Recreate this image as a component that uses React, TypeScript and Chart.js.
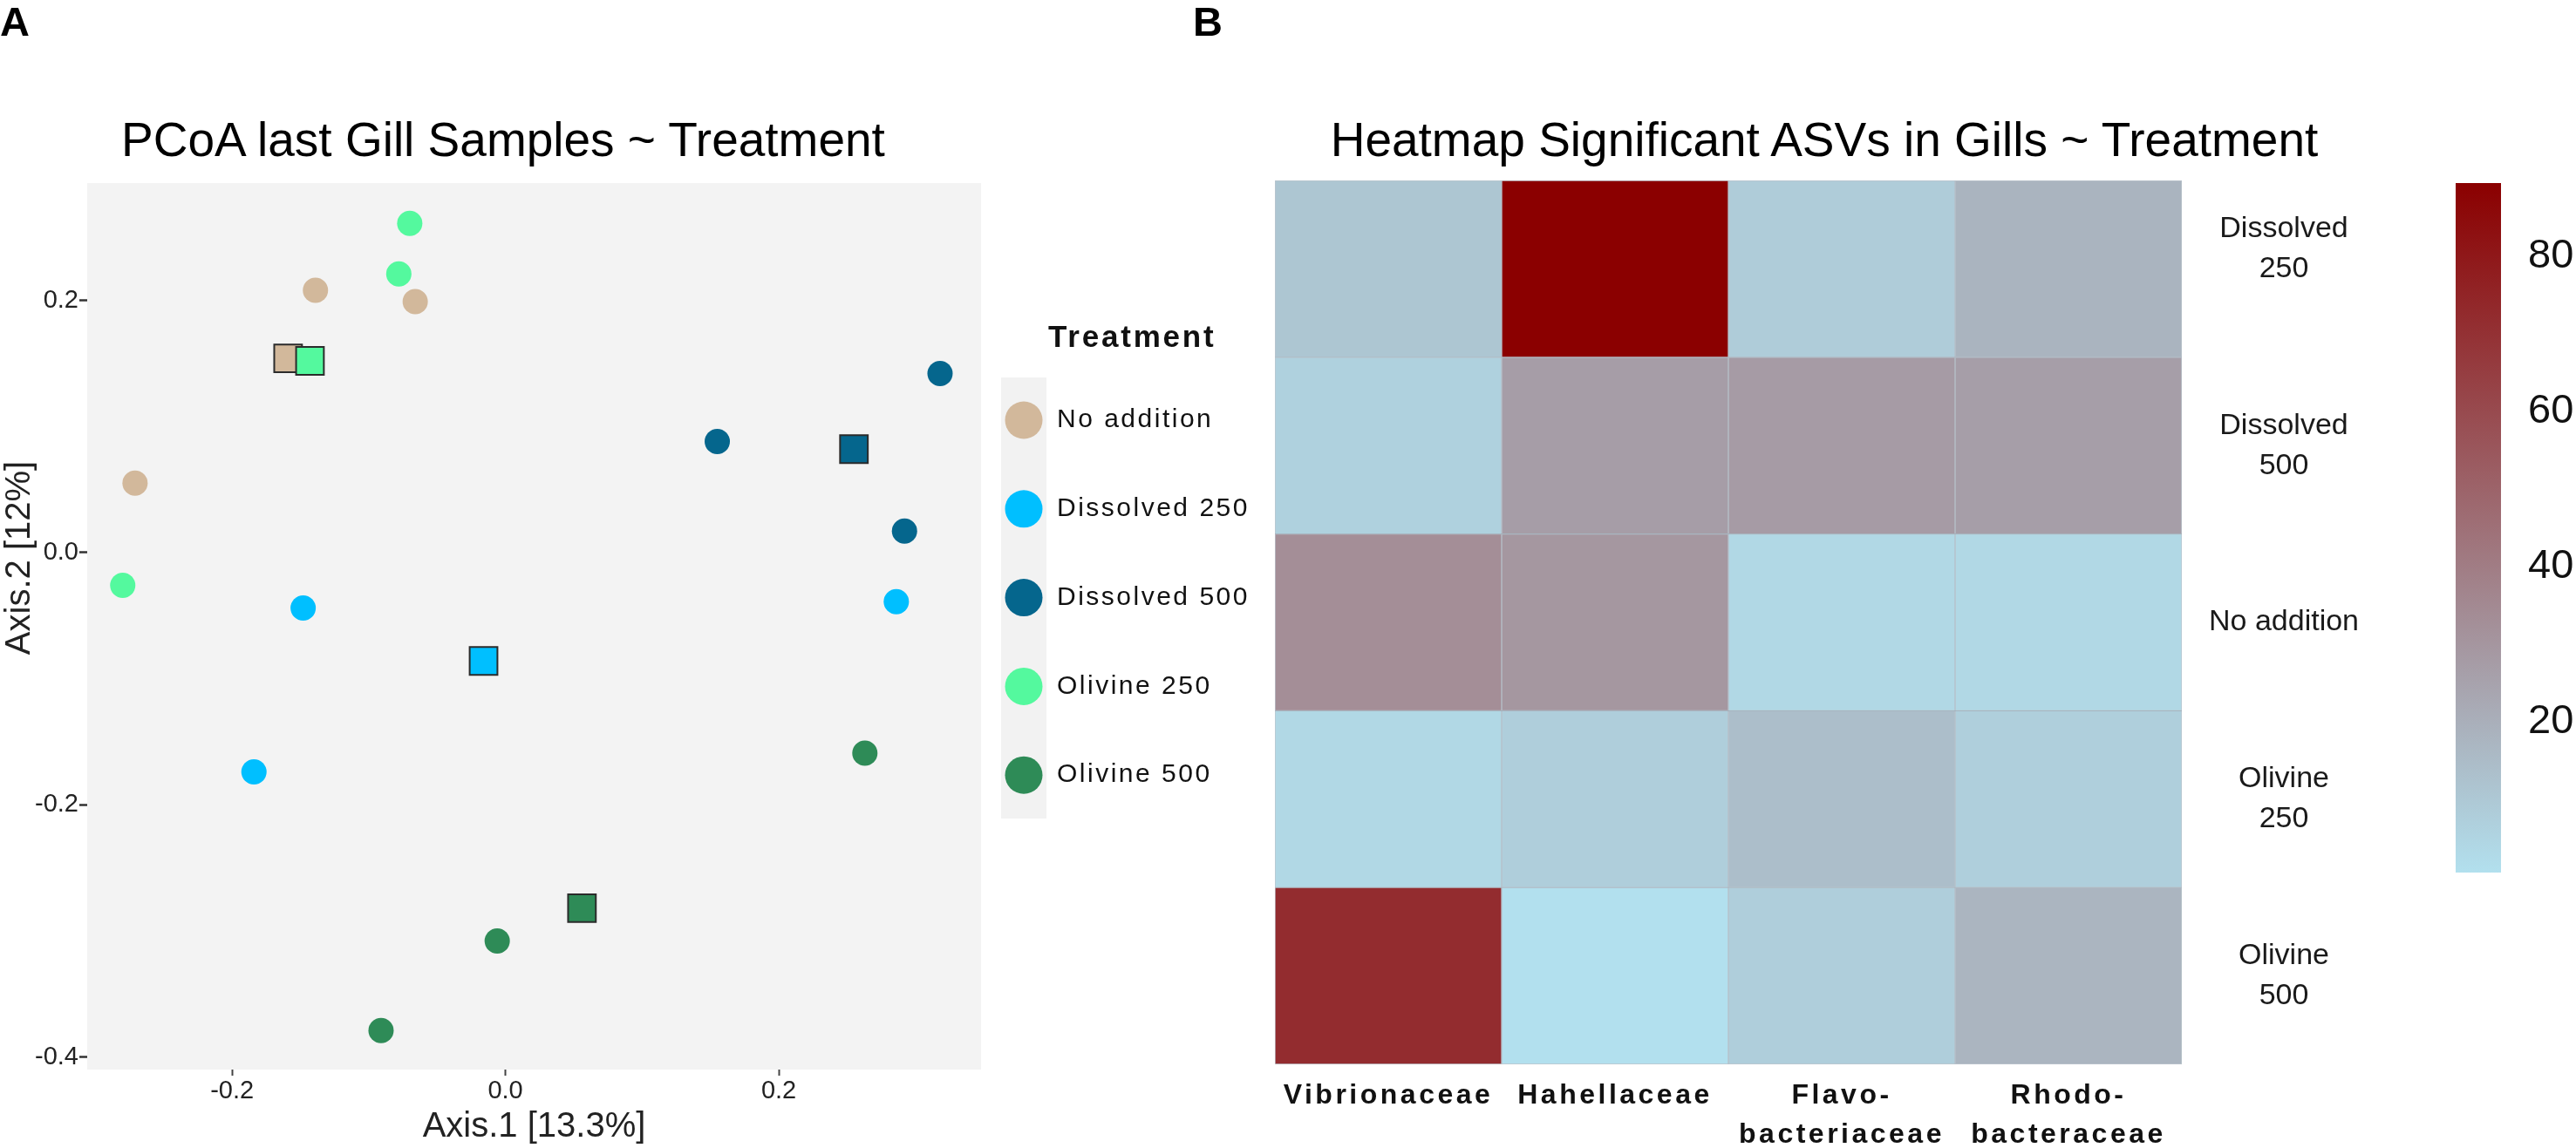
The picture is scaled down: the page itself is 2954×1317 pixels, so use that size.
import React, { useEffect, useRef } from 'react';
import { Chart, registerables } from 'chart.js';

Chart.register(...registerables);

const FONT = "'Liberation Sans', Arial, Helvetica, sans-serif";

// ---------------- Panel A : PCoA ----------------
const treatments = ['No addition', 'Dissolved 250', 'Dissolved 500', 'Olivine 250', 'Olivine 500'];
const treatmentColors = ['#D2B89B', '#00BFFF', '#05668D', '#54F99E', '#2E8B57'];

const noAdditionAxis1 = [-0.139, -0.066, -0.271];
const noAdditionAxis2 = [0.208, 0.199, 0.055];
const dissolved250Axis1 = [-0.148, -0.184, 0.286];
const dissolved250Axis2 = [-0.044, -0.174, -0.039];
const dissolved500Axis1 = [0.318, 0.155, 0.292];
const dissolved500Axis2 = [0.142, 0.088, 0.017];
const olivine250Axis1 = [-0.07, -0.078, -0.28];
const olivine250Axis2 = [0.261, 0.221, -0.026];
const olivine500Axis1 = [0.263, -0.006, -0.091];
const olivine500Axis2 = [-0.159, -0.308, -0.379];

// group centroids (squares)
const centroidAxis1 = [-0.159, -0.016, 0.255, -0.143, 0.056];
const centroidAxis2 = [0.154, -0.086, 0.082, 0.152, -0.282];

const axis1Ticks = [-0.2, 0.0, 0.2];
const axis2Ticks = [-0.4, -0.2, 0.0, 0.2];
const axis1Range = [-0.306, 0.348];
const axis2Range = [-0.41, 0.293];

// ---------------- Panel B : heatmap ----------------
const families = ['Vibrionaceae', 'Hahellaceae', 'Flavobacteriaceae', 'Rhodobacteraceae'];
const familyTickLines: (string | string[])[] = ['Vibrionaceae', 'Hahellaceae', ['Flavo-', 'bacteriaceae'], ['Rhodo-', 'bacteraceae']];
const heatRows = ['Dissolved 250', 'Dissolved 500', 'No addition', 'Olivine 250', 'Olivine 500'];
const heatRowLines: (string | string[])[] = [['Dissolved', '250', ''], ['Dissolved', '500'], 'No addition', ['Olivine', '250'], ['Olivine', '500']];

const dissolved250Values = [10.8, 89.5, 8.4, 17.9];
const dissolved500Values = [6.5, 27.1, 27.9, 26.8];
const noAdditionValues = [33.1, 29.5, 3.7, 3.7];
const olivine250Values = [3.7, 7.6, 14.0, 7.3];
const olivine500Values = [72.1, 0.5, 7.6, 17.6];

const colorbarTicks = [20, 40, 60, 80];
const colorMin = 0.5;
const colorMax = 89.5;
const lowRGB = [178, 224, 238];
const highRGB = [139, 0, 0];

function heatColor(v: number) {
  const t = Math.max(0, Math.min(1, (v - colorMin) / (colorMax - colorMin)));
  const c = lowRGB.map((l, i) => Math.round(l + (highRGB[i] - l) * t));
  return `rgb(${c[0]},${c[1]},${c[2]})`;
}

function useChart(build: (canvas: HTMLCanvasElement) => Chart) {
  const ref = useRef<HTMLCanvasElement>(null);
  useEffect(() => {
    if (!ref.current) return;
    const chart = build(ref.current);
    return () => chart.destroy();
  }, []);
  return ref;
}

function PcoaChart() {
  const ref = useChart((canvas) => {
    const axis1 = [noAdditionAxis1, dissolved250Axis1, dissolved500Axis1, olivine250Axis1, olivine500Axis1];
    const axis2 = [noAdditionAxis2, dissolved250Axis2, dissolved500Axis2, olivine250Axis2, olivine500Axis2];
    const datasets = treatments.map((name, i) => {
      const pts = axis1[i].map((x, j) => ({ x, y: axis2[i][j] }));
      pts.push({ x: centroidAxis1[i], y: centroidAxis2[i] });
      const last = pts.length - 1;
      return {
        label: name,
        data: pts,
        order: name === 'Olivine 250' ? 0 : 1,
        backgroundColor: treatmentColors[i],
        pointBackgroundColor: treatmentColors[i],
        pointStyle: pts.map((_, j) => (j === last ? 'rect' : 'circle')),
        pointRadius: pts.map((_, j) => (j === last ? 22.5 : 14.5)),
        pointBorderWidth: pts.map((_, j) => (j === last ? 2 : 0)),
        pointBorderColor: pts.map((_, j) => (j === last ? '#2b2b2b' : treatmentColors[i])),
      };
    });

    const panelBg = {
      id: 'panelBg',
      beforeDraw(chart: any) {
        const { ctx, chartArea: a } = chart;
        ctx.save();
        ctx.fillStyle = '#F3F3F3';
        ctx.fillRect(a.left, a.top, a.right - a.left, a.bottom - a.top);
        ctx.restore();
      },
    };

    // y-axis title, placed a little above the panel centre as in the original figure
    const yTitle = {
      id: 'yTitle',
      afterDraw(chart: any) {
        const { ctx, chartArea: a } = chart;
        ctx.save();
        ctx.translate(23, a.top + 430);
        ctx.rotate(-Math.PI / 2);
        ctx.textAlign = 'center';
        ctx.textBaseline = 'middle';
        ctx.font = `40px ${FONT}`;
        ctx.fillStyle = '#222';
        ctx.fillText('Axis.2 [12%]', 0, 0);
        ctx.restore();
      },
    };

    const treatmentLegend = {
      id: 'treatmentLegend',
      afterDraw(chart: any) {
        const { ctx, chartArea: a } = chart;
        const x0 = a.right + 23;
        ctx.save();
        ctx.fillStyle = '#F2F2F2';
        ctx.fillRect(x0, a.top + 223, 52, 506);
        ctx.textBaseline = 'middle';
        ctx.textAlign = 'left';
        ctx.letterSpacing = '2.8px';
        ctx.font = `bold 35px ${FONT}`;
        ctx.fillStyle = '#111';
        ctx.fillText('Treatment', x0 + 54, a.top + 178);
        ctx.letterSpacing = '2.5px';
        ctx.font = `30px ${FONT}`;
        chart.data.datasets.forEach((ds: any, i: number) => {
          const cy = a.top + 272 + i * 101.8;
          ctx.beginPath();
          ctx.fillStyle = ds.backgroundColor;
          ctx.arc(x0 + 26, cy, 21.5, 0, Math.PI * 2);
          ctx.fill();
          ctx.fillStyle = '#111';
          ctx.fillText(ds.label, x0 + 64, cy);
        });
        ctx.restore();
      },
    };

    return new Chart(canvas, {
      type: 'scatter',
      data: { datasets: datasets as any },
      plugins: [panelBg, yTitle, treatmentLegend],
      options: {
        responsive: false,
        animation: false,
        events: [],
        layout: { padding: { left: 0, top: 210, right: 335, bottom: 0 } },
        plugins: { legend: { display: false }, tooltip: { enabled: false }, title: { display: false } },
        scales: {
          x: {
            type: 'linear',
            min: axis1Range[0],
            max: axis1Range[1],
            afterBuildTicks: (s: any) => { s.ticks = axis1Ticks.map((v) => ({ value: v })); },
            afterFit: (s: any) => { s.height = 90; },
            grid: { display: true, drawOnChartArea: false, drawTicks: true, tickLength: 7, tickWidth: 2, tickColor: '#444', color: 'rgba(0,0,0,0)' },
            border: { display: false },
            ticks: { font: { family: FONT, size: 29 }, color: '#222', padding: 1, maxRotation: 0, autoSkip: false, callback: (v: any) => Number(v).toFixed(1) },
            title: { display: true, text: 'Axis.1 [13.3%]', font: { family: FONT, size: 40 }, color: '#222', padding: { top: 0, bottom: 0 } },
          },
          y: {
            type: 'linear',
            min: axis2Range[0],
            max: axis2Range[1],
            afterBuildTicks: (s: any) => { s.ticks = axis2Ticks.map((v) => ({ value: v })); },
            afterFit: (s: any) => { s.width = 100; },
            grid: { display: true, drawOnChartArea: false, drawTicks: true, tickLength: 9, tickWidth: 2.5, tickColor: '#333', color: 'rgba(0,0,0,0)' },
            border: { display: false },
            ticks: { font: { family: FONT, size: 29 }, color: '#222', padding: 1, autoSkip: false, callback: (v: any) => Number(v).toFixed(1) },
          },
        },
      },
    } as any);
  });
  return <canvas ref={ref} width={1460} height={1317} style={{ position: 'absolute', left: 0, top: 0, width: 1460, height: 1317 }} />;
}

function HeatmapChart() {
  const ref = useChart((canvas) => {
    const rowValues = [dissolved250Values, dissolved500Values, noAdditionValues, olivine250Values, olivine500Values];
    const datasets = heatRows.map((name, r) => ({
      label: name,
      data: families.map(() => [r, r + 1]),
      backgroundColor: rowValues[r].map((v) => heatColor(v)),
      borderColor: 'rgba(120,140,155,0.5)',
      borderWidth: 1,
      borderSkipped: false,
      grouped: false,
      barPercentage: 1,
      categoryPercentage: 1,
    }));
    // column labels are letter-spaced, row labels are not
    const spacing = {
      id: 'labelSpacing',
      beforeUpdate(chart: any) { chart.ctx.letterSpacing = '0px'; },
      beforeDraw(chart: any) { chart.ctx.letterSpacing = '3.5px'; },
      afterDatasetsDraw(chart: any) { chart.ctx.letterSpacing = '0px'; },
    };
    return new Chart(canvas, {
      type: 'bar',
      data: { labels: families, datasets: datasets as any },
      plugins: [spacing],
      options: {
        responsive: false,
        animation: false,
        events: [],
        layout: { padding: { left: 62, top: 207, right: 0, bottom: 0 } },
        plugins: { legend: { display: false }, tooltip: { enabled: false }, title: { display: false } },
        scales: {
          x: {
            type: 'category',
            offset: true,
            afterFit: (s: any) => { s.height = 96; },
            grid: { display: false },
            border: { display: false },
            ticks: {
              font: { family: FONT, size: 32, weight: 'bold', lineHeight: 1.4 },
              color: '#111',
              padding: 6,
              maxRotation: 0,
              autoSkip: false,
              callback: (_v: any, i: number) => familyTickLines[i],
            },
          },
          y: {
            type: 'linear',
            position: 'right',
            min: 0,
            max: heatRows.length,
            reverse: true,
            afterBuildTicks: (s: any) => { s.ticks = heatRows.map((_, i) => ({ value: i + 0.5 })); },
            afterFit: (s: any) => { s.width = 258; },
            grid: { display: false },
            border: { display: false },
            ticks: {
              z: 1,
              font: { family: FONT, size: 34, lineHeight: 1.35 },
              color: '#1a1a1a',
              padding: 23,
              crossAlign: 'center',
              autoSkip: false,
              callback: (v: any) => heatRowLines[Math.floor(Number(v))],
            },
          },
        },
      },
    } as any);
  });
  return <canvas ref={ref} width={1360} height={1317} style={{ position: 'absolute', left: 1400, top: 0, width: 1360, height: 1317 }} />;
}

function ColorbarChart() {
  const ref = useChart((canvas) => {
    return new Chart(canvas, {
      type: 'bar',
      data: {
        labels: ['value'],
        datasets: [
          {
            data: [[colorMin, colorMax]],
            backgroundColor: (c: any) => {
              const a = c.chart.chartArea;
              if (!a) return heatColor(colorMin);
              const y = c.chart.scales.y;
              const g = c.chart.ctx.createLinearGradient(0, y.getPixelForValue(colorMin), 0, y.getPixelForValue(colorMax));
              g.addColorStop(0, heatColor(colorMin));
              g.addColorStop(1, heatColor(colorMax));
              return g;
            },
            borderWidth: 0,
            barPercentage: 1,
            categoryPercentage: 1,
          },
        ],
      },
      options: {
        responsive: false,
        animation: false,
        events: [],
        layout: { padding: { left: 56, top: 210, right: 0, bottom: 316 } },
        plugins: { legend: { display: false }, tooltip: { enabled: false } },
        scales: {
          x: { display: false },
          y: {
            position: 'right',
            min: colorMin,
            max: colorMax,
            afterBuildTicks: (s: any) => { s.ticks = colorbarTicks.map((v) => ({ value: v })); },
            afterFit: (s: any) => { s.width = 86; },
            grid: { display: false },
            border: { display: false },
            ticks: { font: { family: FONT, size: 47 }, color: '#111', padding: 23, autoSkip: false },
          },
        },
      },
    } as any);
  });
  return <canvas ref={ref} width={194} height={1317} style={{ position: 'absolute', left: 2760, top: 0, width: 194, height: 1317 }} />;
}

const textBase: React.CSSProperties = { position: 'absolute', fontFamily: FONT, lineHeight: 1, color: '#000', whiteSpace: 'nowrap', margin: 0 };

export default function App() {
  return (
    <div style={{ position: 'absolute', left: 0, top: 0, width: 2954, height: 1317, background: '#fff', overflow: 'hidden' }}>
      <PcoaChart />
      <HeatmapChart />
      <ColorbarChart />
      <div style={{ ...textBase, left: 0, top: 1, fontSize: 47, fontWeight: 'bold' }}>A</div>
      <div style={{ ...textBase, left: 1368, top: 1, fontSize: 47, fontWeight: 'bold' }}>B</div>
      <div style={{ ...textBase, left: 0, width: 1154, top: 133, fontSize: 55, textAlign: 'center' }}>PCoA last Gill Samples ~ Treatment</div>
      <div style={{ ...textBase, left: 1392, width: 1400, top: 133, fontSize: 55, textAlign: 'center' }}>Heatmap Significant ASVs in Gills ~ Treatment</div>
    </div>
  );
}
